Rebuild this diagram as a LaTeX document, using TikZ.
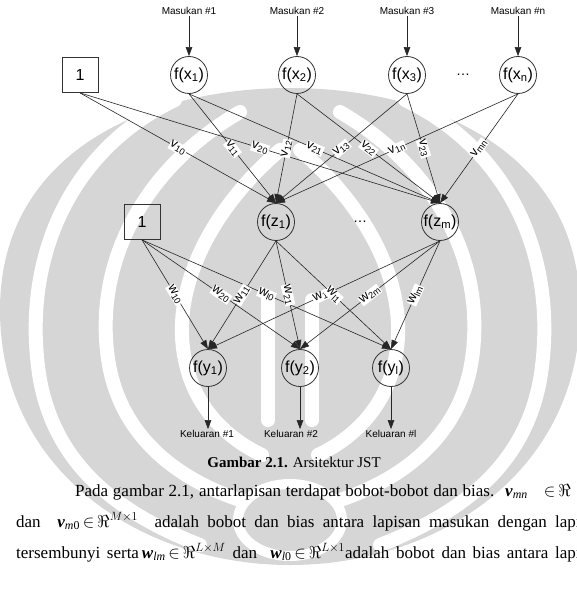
\documentclass[tikz,border=0pt]{standalone}
\usepackage{fontspec}
\setmainfont{Liberation Serif}
\setsansfont{Liberation Sans}
\usetikzlibrary{arrows.meta}
% white stripes of one half of the emblem (mirrored for the other half)
\newcommand\emblemstripes{%
  \draw[wmgap] (175,100) .. controls (70,150) and (20,260) .. (40,380)
     .. controls (55,460) and (110,510) .. (200,545);
  \draw[wmgap] (240,112) .. controls (140,170) and (90,270) .. (110,370)
     .. controls (125,440) and (180,480) .. (240,500);
  \draw[wmgap] (280,150) .. controls (210,210) and (170,290) .. (185,360)
     .. controls (195,410) and (230,440) .. (262,455);
  \draw[wmgap] (268,300) -- (268,420);
}
\begin{document}
\begin{tikzpicture}[x=1pt,y=-1pt,
  neuron/.style={circle,draw=black!80,line width=0.8pt,minimum size=37pt,inner sep=0pt,
    font=\sffamily\fontsize{16}{18}\selectfont},
  biasbox/.style={rectangle,draw=black!80,line width=0.8pt,minimum width=36pt,
    minimum height=35pt,inner sep=0pt,font=\sffamily\fontsize{16}{18}\selectfont},
  io/.style={font=\sffamily\fontsize{10}{12}\selectfont,inner sep=1pt},
  link/.style={draw=black!85,line width=0.6pt,-{Triangle[length=9pt,width=6.5pt]}},
  wt/.style={sloped,fill=white,inner sep=0.6pt,font=\sffamily\fontsize{13}{14}\selectfont},
  ellip/.style={font=\sffamily\fontsize{14}{14}\selectfont},
  body/.style={font=\fontsize{17}{20}\selectfont,inner sep=0pt,anchor=base west},
  wmfill/.style={fill=black!16},
  wmgap/.style={draw=white,line width=14pt,line cap=round}]
\useasboundingbox (0,0) rectangle (577,591);

% faint emblem behind the page
\fill[wmfill] (290,88) .. controls (150,88) and (0,150) .. (0,310)
   .. controls (0,470) and (140,565) .. (290,565)
   .. controls (440,565) and (580,470) .. (580,310)
   .. controls (580,150) and (430,88) .. (290,88) -- cycle;
\emblemstripes
\begin{scope}[xshift=580pt,xscale=-1]
  \emblemstripes
\end{scope}
\draw[wmgap,line width=10pt] (290,520) ellipse [x radius=52, y radius=36];

% input labels and input neurons
\node[io] (in1) at (189,11) {Masukan \#1};
\node[io] (in2) at (297,11) {Masukan \#2};
\node[io] (in3) at (407,11) {Masukan \#3};
\node[io] (inn) at (518,11) {Masukan \#n};
\node[biasbox] (b1) at (80,75) {1};
\node[neuron] (x1) at (189,75) {f(x\textsubscript{1})};
\node[neuron] (x2) at (297,75) {f(x\textsubscript{2})};
\node[neuron] (x3) at (407,75) {f(x\textsubscript{3})};
\node[ellip] (d1) at (463,75) {\ldots};
\node[neuron] (xn) at (518,75) {f(x\textsubscript{n})};

% hidden layer
\node[biasbox] (b2) at (142,222) {1};
\node[neuron] (z1) at (276,222) {f(z\textsubscript{1})};
\node[ellip] (d2) at (360,222) {\ldots};
\node[neuron] (zm) at (440,222) {f(z\textsubscript{m})};

% output layer
\node[neuron] (y1) at (208,368) {f(y\textsubscript{1})};
\node[neuron] (y2) at (300,368) {f(y\textsubscript{2})};
\node[neuron] (yl) at (391,368) {f(y\textsubscript{l})};
\node[io] (out1) at (207,434) {Keluaran \#1};
\node[io] (out2) at (291,434) {Keluaran \#2};
\node[io] (outl) at (391,434) {Keluaran \#l};

% inputs
\foreach \i in {1,2,3,n} \draw[link] (in\i.south) -- (x\i.north);

% input -> hidden weights
\draw[link] (b1.south) -- node[wt]{v\textsubscript{10}} (z1.north);
\draw[link] (b1.south) -- node[wt]{v\textsubscript{20}} (zm.north);
\draw[link] (x1.south) -- node[wt]{v\textsubscript{11}} (z1.north);
\draw[link] (x1.south) -- node[wt]{v\textsubscript{21}} (zm.north);
\draw[link] (x2.south) -- node[wt]{v\textsubscript{12}} (z1.north);
\draw[link] (x2.south) -- node[wt]{v\textsubscript{22}} (zm.north);
\draw[link] (x3.south) -- node[wt]{v\textsubscript{13}} (z1.north);
\draw[link] (x3.south) -- node[wt]{v\textsubscript{23}} (zm.north);
\draw[link] (xn.south) -- node[wt]{v\textsubscript{1n}} (z1.north);
\draw[link] (xn.south) -- node[wt]{v\textsubscript{mn}} (zm.north);

% hidden -> output weights
\draw[link] (b2.south) -- node[wt]{w\textsubscript{10}} (y1.north);
\draw[link] (b2.south) -- node[wt]{w\textsubscript{20}} (y2.north);
\draw[link] (b2.south) -- node[wt]{w\textsubscript{l0}} (yl.north);
\draw[link] (zm.south) -- node[wt]{w\textsubscript{1m}} (y1.north);
\draw[link] (zm.south) -- node[wt]{w\textsubscript{2m}} (y2.north);
\draw[link] (zm.south) -- node[wt]{w\textsubscript{lm}} (yl.north);
\draw[link] (z1.south) -- node[wt]{w\textsubscript{11}} (y1.north);
\draw[link] (z1.south) -- node[wt]{w\textsubscript{21}} (y2.north);
\draw[link] (z1.south) -- node[wt]{w\textsubscript{l1}} (yl.north);

% outputs
\draw[link] (y1.south) -- (y1.south |- out1.north);
\draw[link] (y2.south) -- (y2.south |- out2.north);
\draw[link] (yl.south) -- (yl.south |- outl.north);

% caption and body text
\node[font=\fontsize{15}{18}\selectfont] (cap) at (294,462) {\textbf{Gambar 2.1.} Arsitektur JST};
\node[body] (p1) at (75,496) {\makebox[419pt][s]{Pada gambar 2.1, antarlapisan terdapat bobot-bobot dan bias.}\hspace{11pt}\textbf{\textit{v}}\textsubscript{\textit{mn}}\hspace{16pt}$\mathord{\in}\,\Re$};
\node[body] (p2) at (16,527) {\makebox[587pt][s]{dan \ \textbf{\textit{v}}\textsubscript{\textit{m}0}\,$\mathord{\in}\,\Re^{M\times 1}$ \ adalah bobot dan bias antara lapisan masukan dengan lapisan}};
\node[body] (p3) at (16,558) {\makebox[587pt][s]{tersembunyi serta\,\textbf{\textit{w}}\textsubscript{\textit{lm}}\,$\mathord{\in}\,\Re^{L\times M}$ dan \ \textbf{\textit{w}}\textsubscript{\textit{l}0}\,$\mathord{\in}\,\Re^{L\times 1}$adalah bobot dan bias antara lapisan}};
\end{tikzpicture}
\end{document}
